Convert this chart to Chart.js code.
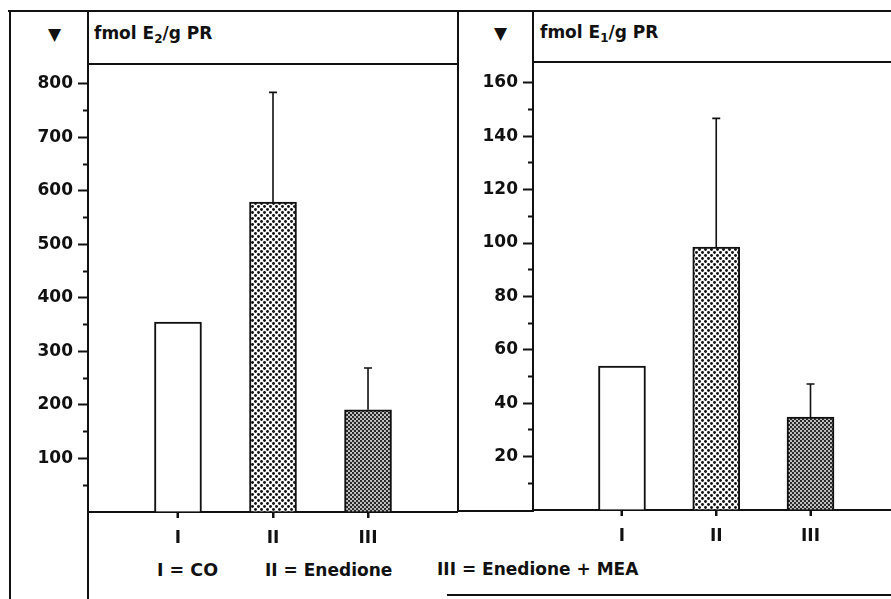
<!DOCTYPE html>
<html>
<head>
<meta charset="utf-8">
<script src="https://cdn.jsdelivr.net/npm/chart.js@4.4.1/dist/chart.umd.min.js"></script>
<style>
html, body { margin: 0; padding: 0; background: #fff; overflow: hidden; }
#page { position: relative; width: 891px; height: 599px; font-family: "DejaVu Sans", sans-serif; font-weight: bold; color: #111; }
.ln { position: absolute; background: #111; }
.txt { position: absolute; white-space: nowrap; line-height: 1; }
.txt sub { font-size: 12px; vertical-align: -4px; line-height: 0; }
canvas { position: absolute; }
</style>
</head>
<body>
<div id="page">
  <!-- frame -->
  <div class="ln" style="left:8px;top:10px;width:883px;height:2px"></div>
  <div class="ln" style="left:9px;top:10px;width:2px;height:589px"></div>
  <div class="ln" style="left:87px;top:10px;width:2px;height:54px"></div>
  <div class="ln" style="left:87px;top:512px;width:2px;height:87px"></div>
  <div class="ln" style="left:457px;top:10px;width:2px;height:502px"></div>
  <div class="ln" style="left:532px;top:10px;width:2px;height:52px"></div>
  <div class="ln" style="left:87px;top:63px;width:371px;height:2px"></div>
  <div class="ln" style="left:532px;top:61px;width:359px;height:2px"></div>
  <div class="ln" style="left:457px;top:510px;width:77px;height:2px"></div>
  <div class="ln" style="left:447px;top:594px;width:444px;height:2px"></div>

  <div class="txt" style="left:48px;top:26px;font-size:17px">▼</div>
  <div class="txt" style="left:494px;top:25px;font-size:17px">▼</div>
  <div class="txt" style="left:94px;top:25px;font-size:17px">fmol E<sub>2</sub>/g PR</div>
  <div class="txt" style="left:540px;top:24px;font-size:17px">fmol E<sub>1</sub>/g PR</div>

  <div class="txt" style="left:157px;top:562px;font-size:17.5px">I = CO</div>
  <div class="txt" style="left:265px;top:562px;font-size:17px">II = Enedione</div>
  <div class="txt" style="left:437px;top:561px;font-size:17px">III = Enedione + MEA</div>

  <canvas id="chartE2" width="450" height="535" style="left:8px;top:64px"></canvas>
  <canvas id="chartE1" width="433" height="537" style="left:458px;top:62px"></canvas>
</div>

<script>
"use strict";
(function() {
    const CATEGORIES = ['I', 'II', 'III'];

    // fmol E2 / g PR
    const E2_VALUES = [355, 579, 191];
    const E2_ERRORS = [0, 205, 78];
    const E2_TICK_LABELS = [100, 200, 300, 400, 500, 600, 700, 800];

    // fmol E1 / g PR
    const E1_VALUES = [53.9, 98.5, 34.8];
    const E1_ERRORS = [0, 48.2, 12.4];
    const E1_TICK_LABELS = [20, 40, 60, 80, 100, 120, 140, 160];

    Chart.defaults.font.family = '"DejaVu Sans", sans-serif';
    Chart.defaults.font.size = 17;
    Chart.defaults.font.weight = 'bold';
    Chart.defaults.color = '#111';

    // fill patterns for the screened bars
    function dotPattern() {
        const c = document.createElement('canvas');
        c.width = 6; c.height = 6;
        const g = c.getContext('2d');
        g.fillStyle = '#fff';
        g.fillRect(0, 0, 6, 6);
        g.fillStyle = '#111';
        [[1.5, 1.5], [4.5, 4.5]].forEach(p => {
            g.beginPath(); g.arc(p[0], p[1], 1.45, 0, Math.PI * 2); g.fill();
        });
        return g.createPattern(c, 'repeat');
    }

    function densePattern() {
        const c = document.createElement('canvas');
        c.width = 4; c.height = 4;
        const g = c.getContext('2d');
        g.fillStyle = '#c8c8c8';
        g.fillRect(0, 0, 4, 4);
        g.fillStyle = '#222';
        [[1, 1], [3, 3]].forEach(p => {
            g.beginPath(); g.arc(p[0], p[1], 1.15, 0, Math.PI * 2); g.fill();
        });
        return g.createPattern(c, 'repeat');
    }

    //error bars above the bars (value + error) and the short category ticks below the base line
    const errorBars = {
        id: 'errorBars',
        afterDatasetsDraw(chart, args, opts) {
            const ctx = chart.ctx;
            const x = chart.scales.x;
            const y = chart.scales.y;
            const meta = chart.getDatasetMeta(0);
            ctx.save();
            ctx.strokeStyle = '#111';
            ctx.lineWidth = 1.6;
            meta.data.forEach((bar, i) => {
                const e = opts.plus[i];
                if (!e) return;
                const top = y.getPixelForValue(chart.data.datasets[0].data[i].y + e);
                ctx.beginPath();
                ctx.moveTo(bar.x, bar.y);
                ctx.lineTo(bar.x, top);
                ctx.moveTo(bar.x - 4, top);
                ctx.lineTo(bar.x + 4, top);
                ctx.stroke();
            });
            ctx.lineWidth = 2;
            x.ticks.forEach(t => {
                const px = Math.round(x.getPixelForValue(t.value));
                ctx.beginPath();
                ctx.moveTo(px, x.top);
                ctx.lineTo(px, x.top + 6);
                ctx.stroke();
            });
            ctx.restore();
        }
    };

    function makeChart(id, values, errors, tickLabels, yMax, yStep, xMin, xMax, yWidth, xHeight) {
        const bg = ['#fff', dotPattern(), densePattern()];
        return new Chart(document.getElementById(id), {
            type: 'bar',
            data: {
                datasets: [{
                    data: values.map((v, i) => ({x: i + 1, y: v})),
                    backgroundColor: bg,
                    borderColor: '#111',
                    borderWidth: 2,
                    barThickness: 47
                }]
            },
            options: {
                responsive: false,
                animation: false,
                devicePixelRatio: 1,
                layout: {padding: 0},
                plugins: {
                    legend: {display: false},
                    tooltip: {enabled: false},
                    errorBars: {plus: errors}
                },
                scales: {
                    x: {
                        type: 'linear',
                        min: xMin,
                        max: xMax,
                        offset: false,
                        border: {display: true, color: '#111', width: 2},
                        grid: {offset: false, drawOnChartArea: false, tickLength: 6, tickColor: '#111', tickWidth: 2},
                        ticks: {
                            stepSize: 1,
                            includeBounds: false,
                            autoSkip: false,
                            maxRotation: 0,
                            padding: 10,
                            callback: v => CATEGORIES[v - 1] || ''
                        },
                        afterFit: s => { s.height = xHeight; s.paddingLeft = 0; s.paddingRight = 0; }
                    },
                    y: {
                        min: 0,
                        max: yMax,
                        border: {display: true, color: '#111', width: 2},
                        grid: {
                            drawOnChartArea: false,
                            tickLength: 10,
                            tickWidth: 2,
                            tickColor: c => c.tick && c.tick.value === 0 ? 'rgba(0,0,0,0)' : '#111',
                            tickBorderDash: c => tickLabels.includes(c.tick && c.tick.value) ? [] : [5, 5],
                            tickBorderDashOffset: c => tickLabels.includes(c.tick && c.tick.value) ? 0 : 5
                        },
                        ticks: {
                            stepSize: yStep,
                            includeBounds: false,
                            autoSkip: false,
                            padding: 5,
                            callback: v => tickLabels.includes(v) ? String(v) : ''
                        },
                        afterFit: s => { s.width = yWidth; s.paddingTop = 0; s.paddingBottom = 0; }
                    }
                }
            },
            plugins: [errorBars]
        });
    }

    makeChart('chartE2', E2_VALUES, E2_ERRORS, E2_TICK_LABELS, 837, 50, 0.053, 3.947, 80, 87);
    makeChart('chartE1', E1_VALUES, E1_ERRORS, E1_TICK_LABELS, 167.8, 10, 0.056, 3.854, 75, 89);
})();
</script>
</body>
</html>
